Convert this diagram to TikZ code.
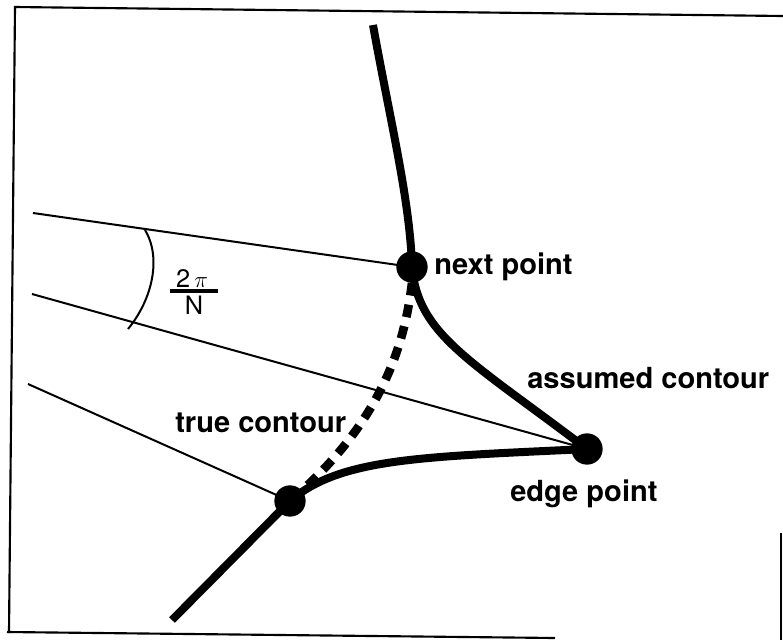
\documentclass[tikz,border=0pt]{standalone}
\usepackage{fontspec}
\setmainfont{TeX Gyre Heros}
\begin{document}
\begin{tikzpicture}[x=0.75pt,y=-0.75pt,
  dotnode/.style={circle,fill=black,draw=none,minimum size=23.5pt,inner sep=0pt},
  thick curve/.style={line width=6pt,line cap=butt},
  dashcurve/.style={line width=6.5pt,dash pattern=on 9.5pt off 7pt},
  ray/.style={line width=1.5pt},
  frameline/.style={line width=1.6pt},
  lbl/.style={font=\fontsize{21.8}{24}\selectfont\bfseries,anchor=base west,inner sep=0pt},
  frac/.style={font=\fontsize{19}{21}\selectfont,inner sep=0pt}]
\useasboundingbox (0,0) rectangle (783,640);
% frame (partial, as scanned)
\coordinate (f1) at (15,7);
\coordinate (f2) at (783,16);
\coordinate (f3) at (9,633);
\coordinate (f4) at (7,632);
\coordinate (f5) at (555,638);
\coordinate (f6) at (781,533);
\coordinate (f7) at (781,640);
\draw[frameline] (f2) -- (f1) -- (f3);
\draw[frameline] (f4) -- (f5);
\draw[frameline] (f6) -- (f7);
% points
\node[dotnode] (np) at (412,267) {};
\node[dotnode] (ep) at (587,449) {};
\node[dotnode] (lp) at (290,501) {};
% ray start points
\coordinate (r1) at (33,213);
\coordinate (r2) at (32,294);
\coordinate (r3) at (28,384);
\coordinate (top) at (373,25);
\coordinate (bot) at (172,620);
% rays
\draw[ray] (r1) -- (np.center);
\draw[ray] (r2) -- (ep.center);
\draw[ray] (r3) -- (lp.center);
% angle arc
\coordinate (a1) at (145,230);
\coordinate (a2) at (128,329);
\draw[line width=1.5pt] (a1) .. controls (162,258) and (152,300) .. (a2);
% fraction
\node[frac] (num) at (192,279) {2\,$\pi$};
\node[frac] (den) at (194,305) {N};
\coordinate (b1) at (170,291);
\coordinate (b2) at (218,291);
\draw[line width=2.8pt] (b1) -- (b2);
% thick contour
\draw[thick curve] (top) .. controls (390,120) and (410,200) .. (np.center);
\draw[thick curve] (np.center) .. controls (418,335) and (470,360) .. (ep.center);
\draw[thick curve] (bot) -- (lp.center) .. controls (340,458) and (420,457) .. (ep.center);
% true contour (dashed)
\draw[dashcurve] (np.south) .. controls (405,340) and (385,420) .. (lp.center);
% labels
\node[lbl] (lnp) at (434,274) {next point};
\node[lbl] (lac) at (527,388) {assumed contour};
\node[lbl] (lep) at (510,501) {edge point};
\node[lbl] (ltc) at (175,432) {true contour};
\end{tikzpicture}
\end{document}
